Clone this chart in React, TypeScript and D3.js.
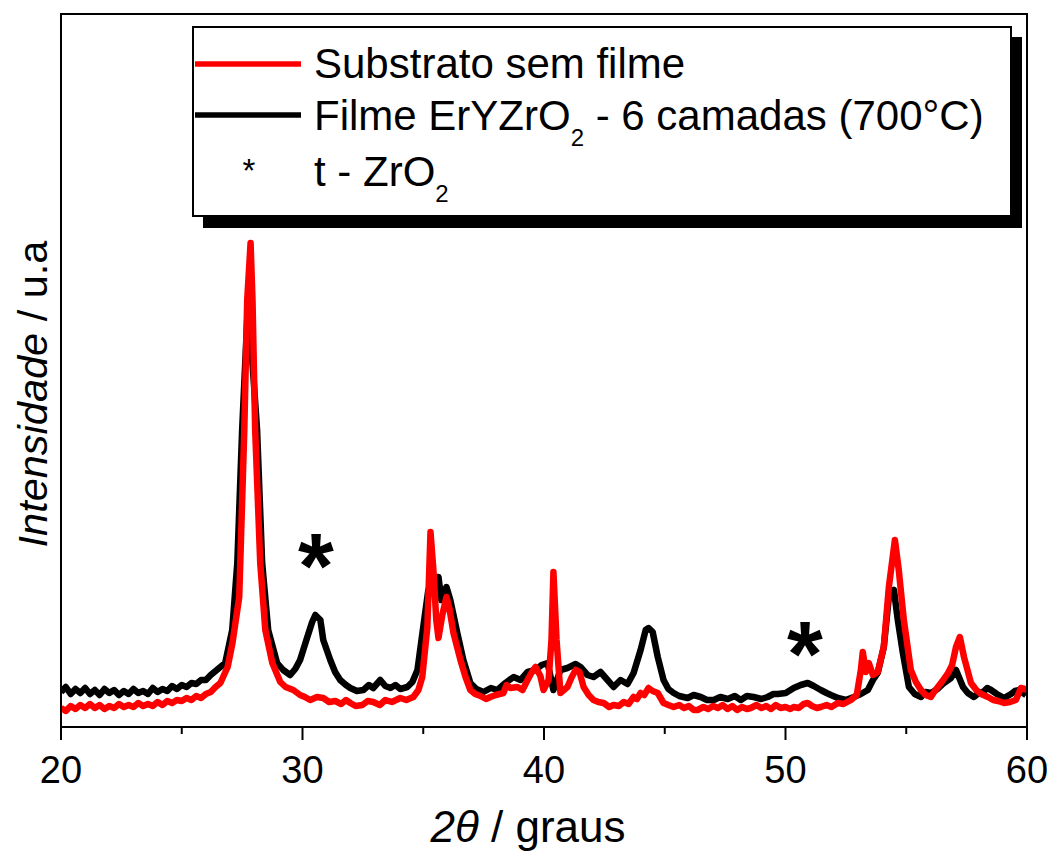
import React from "react";
import * as d3 from "d3";

// 2θ (degrees) and intensity (a.u.)
const substratoX = [20.0,20.2,20.4,20.6,20.8,21.0,21.2,21.4,21.6,21.8,22.0,22.2,22.4,22.6,22.8,23.0,23.2,23.4,23.6,23.8,24.0,24.2,24.4,24.6,24.8,25.0,25.2,25.4,25.6,25.8,26.0,26.2,26.4,26.6,26.9,27.1,27.38,27.59,27.71,27.85,27.93,28.04,28.25,28.46,28.75,29.08,29.3,29.62,29.9,30.1,30.32,30.6,30.86,31.1,31.36,31.6,31.8,31.98,32.2,32.48,32.7,32.93,33.2,33.43,33.7,34.05,34.3,34.59,34.8,34.96,35.17,35.3,35.42,35.54,35.63,35.79,35.96,36.08,36.25,36.54,36.75,36.95,37.15,37.37,37.6,37.78,38.0,38.32,38.45,38.61,38.9,39.11,39.32,39.5,39.65,39.85,39.98,40.19,40.31,40.39,40.52,40.68,40.97,41.15,41.31,41.47,41.64,41.85,42.05,42.25,42.47,42.7,42.88,43.1,43.3,43.5,43.71,43.85,44.0,44.15,44.33,44.5,44.71,44.95,45.15,45.37,45.6,45.8,46.0,46.2,46.36,46.6,46.8,47.0,47.2,47.4,47.6,47.8,48.0,48.2,48.4,48.56,48.8,49.0,49.2,49.4,49.6,49.8,50.0,50.2,50.34,50.55,50.75,50.92,51.1,51.3,51.46,51.7,51.9,52.17,52.4,52.71,52.95,53.12,53.2,53.33,53.45,53.62,53.82,54.07,54.28,54.53,54.69,54.9,55.19,55.4,55.61,55.8,56.02,56.15,56.31,56.5,56.73,56.9,57.06,57.22,57.39,57.68,57.9,58.1,58.38,58.6,58.8,59.05,59.3,59.54,59.75,59.9,60.0];
const substratoY = [19,16,21,18,22,19,23,19,22,18,21,19,23,20,22,20,24,21,23,21,25,22,26,24,27,26,29,27,31,29,33,35,40,44,60,84,130,297,427,484,427,297,164,97,64,45,40,37,32,30,27,30,29,25,26,23,27,24,21,22,26,25,22,27,25,29,27,30,37,50,100,195,157,107,89,112,130,119,94,67,50,37,33,31,28,30,32,34,42,39,40,37,47,55,60,51,37,47,87,155,87,34,40,50,57,55,40,32,27,25,24,20,22,21,25,23,30,28,34,32,39,36,34,24,22,20,22,19,21,17,17,20,18,21,19,22,18,21,17,20,18,19,22,19,21,18,22,19,20,18,20,19,23,24,21,19,20,22,20,24,23,27,32,57,75,55,64,52,55,80,140,187,157,107,57,45,37,32,30,35,40,46,54,62,80,90,70,44,37,33,30,27,26,24,25,27,39,38,37];

const filmeX = [20.0,20.2,20.4,20.6,20.8,21.0,21.2,21.4,21.6,21.8,22.0,22.2,22.4,22.6,22.8,23.0,23.2,23.4,23.6,23.8,24.0,24.2,24.4,24.6,24.8,25.0,25.2,25.4,25.6,25.8,26.0,26.2,26.4,26.6,26.8,27.09,27.3,27.5,27.71,27.82,28.12,28.33,28.58,28.95,29.2,29.49,29.7,29.9,30.2,30.4,30.53,30.74,30.86,31.15,31.35,31.56,31.8,31.98,32.25,32.52,32.75,32.93,33.22,33.43,33.64,33.85,34.05,34.34,34.55,34.76,35.0,35.21,35.42,35.63,35.75,35.96,36.12,36.41,36.66,36.95,37.2,37.49,37.8,38.07,38.4,38.74,39.03,39.32,39.65,39.9,40.15,40.39,40.68,40.97,41.31,41.51,41.8,42.05,42.34,42.63,42.88,43.17,43.46,43.71,44.0,44.21,44.33,44.5,44.71,44.95,45.15,45.37,45.6,45.95,46.2,46.49,46.75,47.03,47.3,47.61,47.9,48.15,48.4,48.68,49.0,49.26,49.5,49.68,50.01,50.34,50.63,50.92,51.17,51.46,51.7,51.88,52.17,52.5,52.83,53.12,53.41,53.62,53.82,54.07,54.28,54.49,54.65,54.86,55.11,55.35,55.61,55.8,56.02,56.3,56.56,56.85,57.06,57.35,57.55,57.8,58.0,58.18,58.35,58.51,58.75,59.05,59.34,59.5,59.67,59.96];
const filmeY = [35,40,33,38,34,39,33,37,32,38,34,37,32,36,33,38,34,36,33,39,35,38,36,41,38,42,40,44,43,47,47,52,56,60,64,97,164,297,407,402,297,164,97,64,57,52,58,67,90,105,112,107,87,67,55,47,42,39,36,37,42,39,47,41,39,42,38,40,45,57,100,137,149,150,127,140,127,94,67,44,38,35,39,37,44,50,47,55,57,62,64,37,57,59,63,60,52,50,55,47,40,47,43,54,77,97,99,95,70,47,38,34,31,29,32,30,27,27,30,28,31,27,31,30,28,30,33,33,34,39,42,44,41,37,34,32,29,27,30,33,37,47,54,80,130,137,107,74,40,33,30,35,34,38,44,49,57,40,34,30,34,35,39,37,33,29,33,36,37,32];

const xTicks = [20, 30, 40, 50, 60];
const xMinorTicks = [25, 35, 45, 55];
const legendLabels = ["Substrato sem filme", "Filme ErYZrO", "t - ZrO"];
const starPositions = [30.55, 50.8];
const starHeights = [165, 77];

const W = 1051;
const H = 854;
const L = 61, R = 1027, T = 14, B = 727;

export default function App() {
  const x = d3.scaleLinear().domain([20, 60]).range([L, R]);
  const y = d3.scaleLinear().domain([0, 713]).range([B, T]);
  const line = d3
    .line<[number, number]>()
    .x((d) => x(d[0]))
    .y((d) => y(d[1]))
    .curve(d3.curveLinear);
  const red = substratoX.map((v, i) => [v, substratoY[i]] as [number, number]);
  const black = filmeX.map((v, i) => [v, filmeY[i]] as [number, number]);
  const font = "Arial, 'Liberation Sans', Helvetica, sans-serif";

  return (
    <svg
      width={W}
      height={H}
      style={{ position: "absolute", left: 0, top: 0, background: "#fff" }}
      fontFamily={font}
    >
      <defs>
        <clipPath id="plotclip">
          <rect x={L} y={T} width={R - L} height={B - T} />
        </clipPath>
      </defs>
      <g clipPath="url(#plotclip)">
        <path d={line(black) || ""} fill="none" stroke="#000" strokeWidth={6.5} strokeLinejoin="round" />
        <path d={line(red) || ""} fill="none" stroke="#ff0000" strokeWidth={6.5} strokeLinejoin="round" />
      </g>
      {/* frame */}
      <rect x={L} y={T} width={R - L} height={B - T} fill="none" stroke="#000" strokeWidth={2} />
      {/* ticks */}
      {xTicks.map((t) => (
        <g key={"t" + t}>
          <line x1={x(t)} x2={x(t)} y1={B} y2={B + 13} stroke="#000" strokeWidth={2} />
          <text x={x(t)} y={783} fontSize={38} textAnchor="middle" fill="#000">
            {t}
          </text>
        </g>
      ))}
      {xMinorTicks.map((t) => (
        <line key={"m" + t} x1={x(t)} x2={x(t)} y1={B} y2={B + 7} stroke="#000" strokeWidth={2} />
      ))}
      {/* axis titles */}
      <text x={528} y={842} fontSize={44} textAnchor="middle" fill="#000">
        <tspan fontStyle="italic">2θ</tspan>
        <tspan> / graus</tspan>
      </text>
      <text
        transform={`translate(47, ${394}) rotate(-90)`}
        fontSize={41.5}
        textAnchor="middle"
        fill="#000"
      >
        <tspan fontStyle="italic">Intensidade</tspan>
        <tspan> / u.a</tspan>
      </text>
      {/* peak markers */}
      {starPositions.map((p, i) => (
        <text
          key={"s" + i}
          x={x(p)}
          y={y(starHeights[i]) + 36}
          fontSize={92}
          fontWeight="bold"
          textAnchor="middle"
          fill="#000"
        >
          *
        </text>
      ))}
      {/* legend */}
      <rect x={203} y={37} width={819} height={191} fill="#000" />
      <rect x={193} y={27} width={818} height={189} fill="#fff" stroke="#000" strokeWidth={2} />
      <line x1={195} x2={301} y1={64} y2={64} stroke="#ff0000" strokeWidth={5.5} />
      <line x1={195} x2={301} y1={115} y2={115} stroke="#000" strokeWidth={5.5} />
      <text x={249} y={182} fontSize={33} textAnchor="middle" fill="#000">*</text>
      <text x={314} y={78} fontSize={42} fill="#000">{legendLabels[0]}</text>
      <text x={314} y={130} fontSize={42} fill="#000">
        {legendLabels[1]}
        <tspan fontSize={24} dy={16}>2</tspan>
        <tspan dy={-16}> - 6 camadas (700°C)</tspan>
      </text>
      <text x={314} y={186} fontSize={42} fill="#000">
        {legendLabels[2]}
        <tspan fontSize={24} dy={16}>2</tspan>
      </text>
    </svg>
  );
}
